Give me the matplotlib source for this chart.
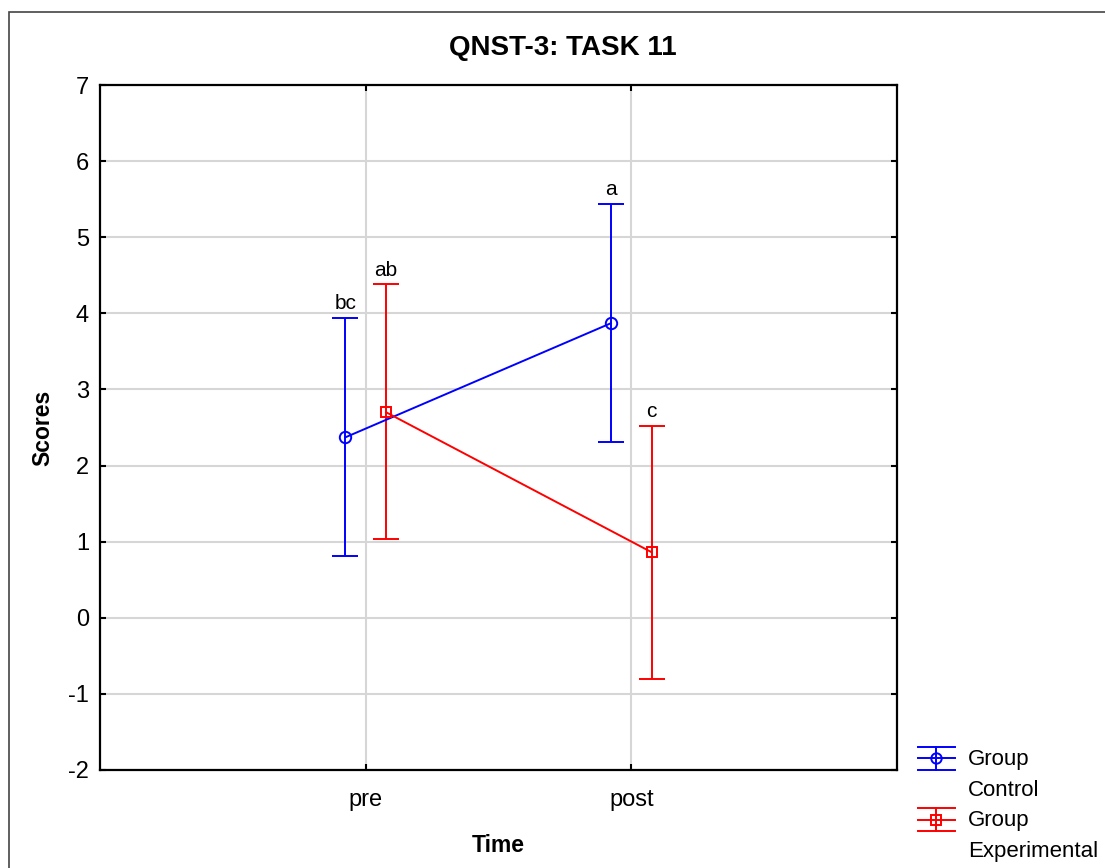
import matplotlib
matplotlib.use("Agg")
import matplotlib.pyplot as plt
from matplotlib.patches import Rectangle
from matplotlib.legend_handler import HandlerBase
from matplotlib.lines import Line2D
import numpy as np

plt.rcParams['font.family'] = ['Liberation Sans', 'DejaVu Sans']
plt.rcParams['axes.unicode_minus'] = False

# ---- data ----
times = ["pre", "post"]
groups = ["Group\nControl", "Group\nExperimental"]
control_mean = [2.37, 3.87]
control_low = [0.81, 2.31]
control_high = [3.94, 5.44]
exp_mean = [2.70, 0.86]
exp_low = [1.04, -0.80]
exp_high = [4.38, 2.52]
control_letters = ["bc", "a"]
exp_letters = ["ab", "c"]

fig = plt.figure(figsize=(11.05, 8.68), dpi=100)
fig.patch.set_facecolor('white')
# figure frame
fig.add_artist(Rectangle((9 / 1105, -0.05), 1.2, (868 - 12) / 868 + 0.05,
                         transform=fig.transFigure, fill=False,
                         edgecolor='#444444', linewidth=1.2))

ax = fig.add_axes([100 / 1105, (868 - 770) / 868, 797 / 1105, 685 / 868])

x = np.arange(len(times))
off = 0.077
series = [
    (control_mean, control_low, control_high, control_letters, '#0000ff', 'o', -off, groups[0]),
    (exp_mean, exp_low, exp_high, exp_letters, '#ff0000', 's', off, groups[1]),
]
handles = []
for mean, low, high, letters, col, mk, dx, lab in series:
    mean = np.array(mean); low = np.array(low); high = np.array(high)
    xs = x + dx
    eb = ax.errorbar(xs, mean, yerr=[mean - low, high - mean], color=col,
                     marker=mk, markersize=8.2 if mk == 'o' else 7.8,
                     markerfacecolor='none', markeredgecolor=col, markeredgewidth=1.4,
                     linewidth=1.4, elinewidth=1.4, capsize=9.4, capthick=1.4,
                     label=lab, zorder=3)
    handles.append(eb)
    for xi, hi, t in zip(xs, high, letters):
        ax.annotate(t, (xi, hi), xytext=(0, 3.5), textcoords='offset points',
                    ha='center', va='bottom', fontsize=15, color='black')

ax.set_xlim(-1, 2)
ax.set_ylim(-2, 7)
ax.set_xticks(x)
ax.set_xticklabels(times)
ax.set_yticks(np.arange(-2, 8, 1))
ax.grid(True, color='#d6d6d6', linewidth=1.5, zorder=0)
ax.set_axisbelow(True)
ax.tick_params(direction='in', length=4, width=1.5, top=True, right=True,
               labelsize=17, color='black')
ax.tick_params(axis='x', pad=14)
ax.tick_params(axis='y', pad=8)
for s in ax.spines.values():
    s.set_linewidth(1.6)

ax.set_xlabel("Time", fontsize=16.5, fontweight='bold', labelpad=16)
ax.set_ylabel("Scores", fontsize=16.5, fontweight='bold', labelpad=10)
fig.text(563 / 1105, 1 - 48 / 868, "QNST-3: TASK 11", fontsize=20, fontweight='bold',
         ha='center', va='center')


class EBHandler(HandlerBase):
    def __init__(self, shift=0.0, half=0.52, **kw):
        super().__init__(**kw)
        self.shift = shift
        self.half = half

    def create_artists(self, legend, orig_handle, xdescent, ydescent, width,
                       height, fontsize, trans):
        data_line = orig_handle[0]
        col = data_line.get_color()
        mk = data_line.get_marker()
        yc = height / 2 - ydescent + self.shift * fontsize
        hh = self.half * fontsize
        x0, x1 = -xdescent, width - xdescent
        xm = (x0 + x1) / 2
        arts = []
        for yy in (yc - hh, yc, yc + hh):
            arts.append(Line2D([x0, x1], [yy, yy], color=col, lw=1.4))
        arts.append(Line2D([xm, xm], [yc - hh, yc + hh], color=col, lw=1.4))
        arts.append(Line2D([xm], [yc], marker=mk, markersize=7.5,
                           markerfacecolor='none', markeredgecolor=col,
                           markeredgewidth=1.4, linestyle='none'))
        for a in arts:
            a.set_transform(trans)
        return arts


leg = fig.legend(handles, groups, loc='upper left',
                 bbox_to_anchor=(918 / 1105, 1 - 749 / 868),
                 frameon=False, fontsize=16, handlelength=1.66, handletextpad=0.6,
                 labelspacing=0.43, borderpad=0, borderaxespad=0,
                 handler_map={type(handles[0]): EBHandler(shift=0.75)})
for t in leg.get_texts():
    t.set_linespacing(1.6)

fig.savefig("out.png", dpi=100)
